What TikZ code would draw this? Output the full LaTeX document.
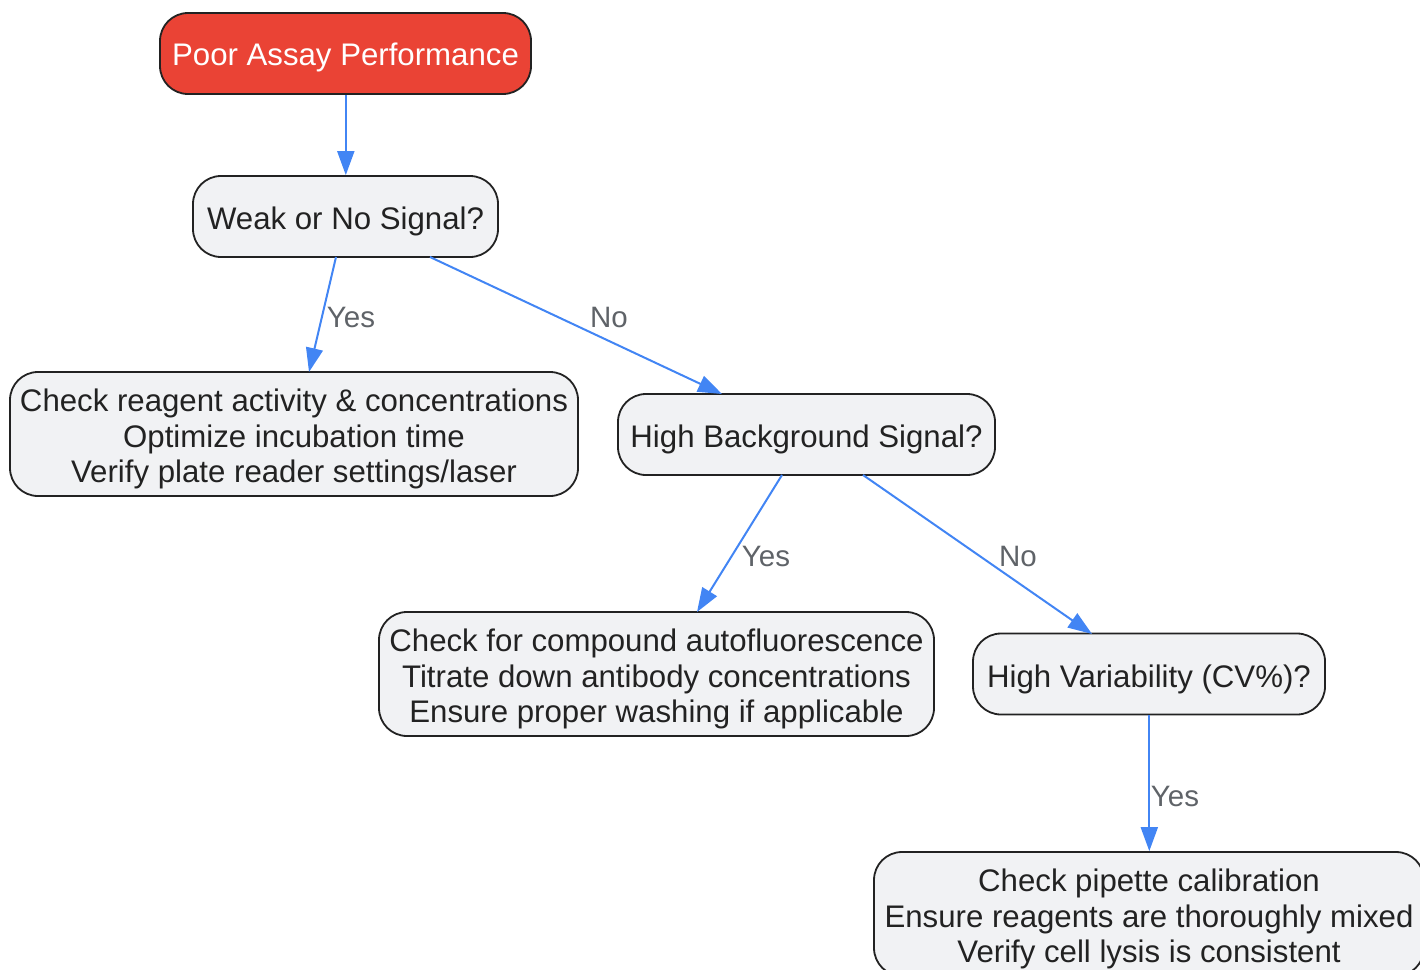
\documentclass[tikz,border=0pt]{standalone}
\usepackage{fontspec}
\setmainfont{Liberation Sans}
\usetikzlibrary{arrows.meta}
\definecolor{redfill}{RGB}{234,67,53}
\definecolor{boxfill}{RGB}{241,242,244}
\definecolor{edgeblue}{RGB}{66,133,244}
\definecolor{labelgray}{RGB}{95,99,104}
\definecolor{textdark}{RGB}{34,34,34}
\tikzset{
  box/.style={draw=textdark, line width=1.8pt, rounded corners=28pt, fill=boxfill, inner sep=0pt},
  startbox/.style={box, fill=redfill},
  boxtext/.style={text=textdark, align=center, inner sep=0pt,
    font=\fontsize{31.2}{35.5}\selectfont},
  starttext/.style={boxtext, text=white},
  conn/.style={draw=edgeblue, line width=2pt, -{Triangle[length=24pt,width=17pt]}},
  lbl/.style={text=labelgray, font=\fontsize{29.5}{34}\selectfont, inner sep=0pt}
}
\begin{document}
\begin{tikzpicture}[x=1pt,y=-1pt]
\useasboundingbox (0,0) rectangle (1420,969);
\node[startbox, minimum width=371pt, minimum height=81pt] (poor) at (345.5,53.5) {};
\node[starttext] (poort) at ([yshift=-4pt]poor.center) {Poor Assay Performance};
\node[box, minimum width=305pt, minimum height=81pt] (weak) at (345.5,216.5) {};
\node[boxtext] (weakt) at ([yshift=-5pt]weak.center) {Weak or No Signal?};
\node[box, minimum width=568pt, minimum height=124pt] (reag) at (294,434) {};
\node[boxtext] (reagt) at ([yshift=-5pt]reag.center) {Check reagent activity \& concentrations\\Optimize incubation time\\Verify plate reader settings/laser};
\node[box, minimum width=377pt, minimum height=81pt] (bg) at (806.5,434.5) {};
\node[boxtext] (bgt) at ([yshift=-5pt]bg.center) {High Background Signal?};
\node[box, minimum width=555pt, minimum height=124pt] (comp) at (656.5,674) {};
\node[boxtext] (compt) at ([yshift=-5pt]comp.center) {Check for compound autofluorescence\\Titrate down antibody concentrations\\Ensure proper washing if applicable};
\node[box, minimum width=352pt, minimum height=81pt] (var) at (1149,674) {};
\node[boxtext] (vart) at ([yshift=-5pt]var.center) {High Variability (CV\%)?};
\node[box, minimum width=550pt, minimum height=124pt] (pip) at (1149,914) {};
\node[boxtext] (pipt) at ([yshift=-5pt]pip.center) {Check pipette calibration\\Ensure reagents are thoroughly mixed\\Verify cell lysis is consistent};

\coordinate (w1) at (336,257);
\coordinate (r1) at (309,372);
\coordinate (w2) at (430,257);
\coordinate (b1) at (722,394);
\coordinate (b2) at (782,475);
\coordinate (c1) at (697,612);
\coordinate (b3) at (863,475);
\coordinate (v1) at (1092,634);

\draw[conn] ([xshift=0.3pt]poor.south) -- ([xshift=0.3pt]weak.north);
\draw[conn] (w1) -- (r1);
\draw[conn] (w2) -- (b1);
\draw[conn] (b2) -- (c1);
\draw[conn] (b3) -- (v1);
\draw[conn] ([xshift=0.3pt]var.south) -- ([xshift=0.3pt]pip.north);

\node[lbl] (l1) at (351,317) {Yes};
\node[lbl] (l2) at (609,317) {No};
\node[lbl] (l3) at (766,556) {Yes};
\node[lbl] (l4) at (1018,556) {No};
\node[lbl] (l5) at (1175,796) {Yes};
\end{tikzpicture}
\end{document}
